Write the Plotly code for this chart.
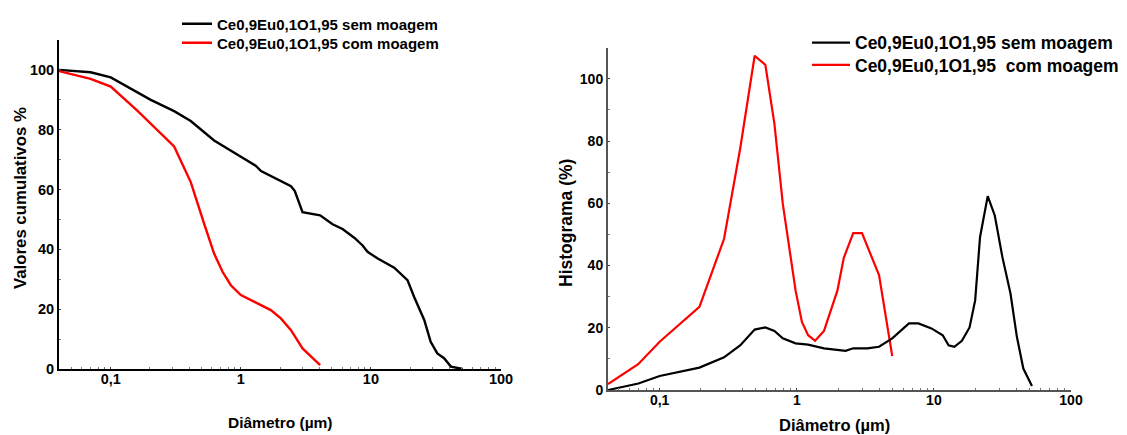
import plotly.graph_objects as go

# Cumulative distribution (left panel)
cum_sem_d = [0.04, 0.070, 0.1, 0.151, 0.203, 0.307, 0.412, 0.623, 1.0, 1.30, 1.43, 1.91, 2.43,
             2.60, 2.81, 2.98, 4.07, 5.07, 6.05, 7.44, 8.63, 9.42, 11.2, 15.1, 19.1, 21.5,
             25.7, 28.8, 32.4, 36.5, 41.2, 50.7]
cum_sem_v = [100, 99.2, 97.5, 93.3, 90.0, 86.2, 82.9, 76.4, 71.1, 68.0, 66.2, 63.3, 61.1,
             59.5, 55.3, 52.4, 51.4, 48.4, 46.8, 43.9, 41.3, 39.2, 37.0, 33.9, 29.7, 24.1,
             16.4, 9.1, 5.2, 3.6, 0.8, 0.0]
cum_com_d = [0.04, 0.070, 0.1, 0.160, 0.307, 0.412, 0.522, 0.623, 0.723, 0.838, 1.0, 1.34,
             1.70, 2.03, 2.43, 2.98, 4.07]
cum_com_v = [99.6, 97.0, 94.4, 86.4, 74.4, 62.5, 48.6, 38.6, 32.5, 28.0, 24.7, 21.9,
             19.7, 16.9, 13.0, 6.9, 1.3]

# Histogram distribution (right panel)
his_sem_d = [0.042, 0.07, 0.1, 0.195, 0.295, 0.388, 0.493, 0.59, 0.687, 0.79, 0.98, 1.21,
             1.58, 1.98, 2.27, 2.58, 3.28, 3.98, 4.97, 6.58, 7.71, 9.6, 11.6, 12.8, 14.1,
             16.0, 18.2, 20.0, 21.7, 24.7, 27.8, 31.6, 36.2, 40.3, 44.9, 51.9]
his_sem_v = [0.0, 2.1, 4.5, 7.2, 10.5, 14.4, 19.4, 20.1, 19.0, 16.6, 15.0, 14.6,
             13.4, 13.0, 12.6, 13.4, 13.4, 13.9, 16.6, 21.4, 21.4, 19.8, 17.6, 14.4, 13.9,
             15.8, 20.1, 28.8, 49.1, 62.3, 56.1, 42.7, 31.0, 17.1, 6.9, 1.3]
his_com_d = [0.042, 0.0697, 0.1, 0.195, 0.295, 0.388, 0.493, 0.59, 0.687, 0.791, 0.98, 1.09,
             1.21, 1.36, 1.58, 1.98, 2.2, 2.58, 2.99, 3.98, 4.97]
his_com_v = [1.9, 8.3, 15.5, 26.7, 48.6, 78.0, 107.4, 104.5, 85.5, 59.8, 32.0, 21.9,
             17.6, 15.8, 19.0, 32.0, 42.4, 50.4, 50.4, 36.9, 10.9]

x_ticks = [0.1, 1, 10, 100]
x_ticktext = ["0,1", "1", "10", "100"]
x_minor = [0.05, 0.06, 0.07, 0.08, 0.09, 0.2, 0.3, 0.4, 0.5, 0.6, 0.7, 0.8, 0.9,
           2, 3, 4, 5, 6, 7, 8, 9, 20, 30, 40, 50, 60, 70, 80, 90]
y_ticks = [0, 20, 40, 60, 80, 100]
y_minor = [10, 30, 50, 70, 90]

name_sem = "Ce0,9Eu0,1O1,95 sem moagem"
name_com_l = "Ce0,9Eu0,1O1,95 com moagem"
name_com_r = "Ce0,9Eu0,1O1,95\u00a0\u00a0com moagem"

W, H = 1127, 435
FONT = "Liberation Sans, Arial, sans-serif"

def px(x):
    return x / W

def py(y):
    return 1 - y / H

def bold(size):
    return dict(family=FONT, size=size, color="black", weight="bold")

fig = go.Figure()

fig.add_trace(go.Scatter(x=cum_sem_d, y=cum_sem_v, mode="lines", name=name_sem,
                         line=dict(color="black", width=2.4), xaxis="x", yaxis="y",
                         legend="legend"))
fig.add_trace(go.Scatter(x=cum_com_d, y=cum_com_v, mode="lines", name=name_com_l,
                         line=dict(color="#ff0000", width=2.4), xaxis="x", yaxis="y",
                         legend="legend2"))
fig.add_trace(go.Scatter(x=his_com_d, y=his_com_v, mode="lines", name=name_com_r,
                         line=dict(color="#ff0000", width=2.2), xaxis="x2", yaxis="y2",
                         legend="legend4"))
fig.add_trace(go.Scatter(x=his_sem_d, y=his_sem_v, mode="lines", name=name_sem,
                         line=dict(color="black", width=2.2), xaxis="x2", yaxis="y2",
                         legend="legend3"))

def xaxis_cfg(domain, anchor, linecolor, rng, size):
    return dict(type="log", range=rng, domain=domain, anchor=anchor,
                tickmode="array", tickvals=x_ticks, ticktext=x_ticktext, tickfont=bold(size),
                showline=True, linecolor=linecolor, linewidth=2, showgrid=False,
                zeroline=False, ticks="inside", ticklen=2, tickcolor="#444",
                ticklabelstandoff=-4,
                minor=dict(tickmode="array", tickvals=x_minor, ticks="inside", ticklen=2,
                           tickcolor="#777", showgrid=False),
                automargin=False, fixedrange=True)

def yaxis_cfg(domain, anchor, linecolor, size):
    return dict(range=[0, 110], domain=domain, anchor=anchor,
                tickmode="array", tickvals=y_ticks, tickfont=bold(size),
                showline=True, linecolor=linecolor, linewidth=2, showgrid=False,
                zeroline=False, ticks="inside", ticklen=2, tickcolor="#444",
                minor=dict(tickmode="array", tickvals=y_minor, ticks="inside", ticklen=2,
                           tickcolor="#777", showgrid=False),
                automargin=False, fixedrange=True)

def legend_cfg(x, y, size, itemwidth):
    return dict(x=px(x), y=py(y), xanchor="left", yanchor="middle", font=bold(size),
                bgcolor="rgba(0,0,0,0)", itemwidth=itemwidth, tracegroupgap=0)

fig.update_layout(
    width=W, height=H,
    margin=dict(l=0, r=0, t=0, b=0, autoexpand=False),
    paper_bgcolor="white", plot_bgcolor="white",
    xaxis=xaxis_cfg([px(59), px(501)], "y", "black", [-1.3979, 2], 14.5),
    yaxis=yaxis_cfg([py(369), py(40)], "x", "black", 14.5),
    xaxis2=xaxis_cfg([px(608), px(1071)], "y2", "#555", [-1.3768, 2], 14),
    yaxis2=yaxis_cfg([py(390), py(47.7)], "x2", "#555", 14),
    legend=legend_cfg(177, 24, 15, 30),
    legend2=legend_cfg(177, 43, 15, 30),
    legend3=legend_cfg(807, 42.7, 17.5, 38),
    legend4=legend_cfg(807, 65, 17.5, 38),
    showlegend=True,
)

def title(text, x, y, size, angle=0):
    fig.add_annotation(text=text, x=px(x), y=py(y), xref="paper", yref="paper",
                       xanchor="center", yanchor="middle", showarrow=False,
                       textangle=angle, font=bold(size))

title("Valores cumulativos %", 20, 198, 16.8, -90)
title("Diâmetro (µm)", 280, 422, 15.5)
title("Histograma (%)", 566, 223, 17.5, -90)
title("Diâmetro (µm)", 834, 425, 16.5)

fig.write_html("out.html")
